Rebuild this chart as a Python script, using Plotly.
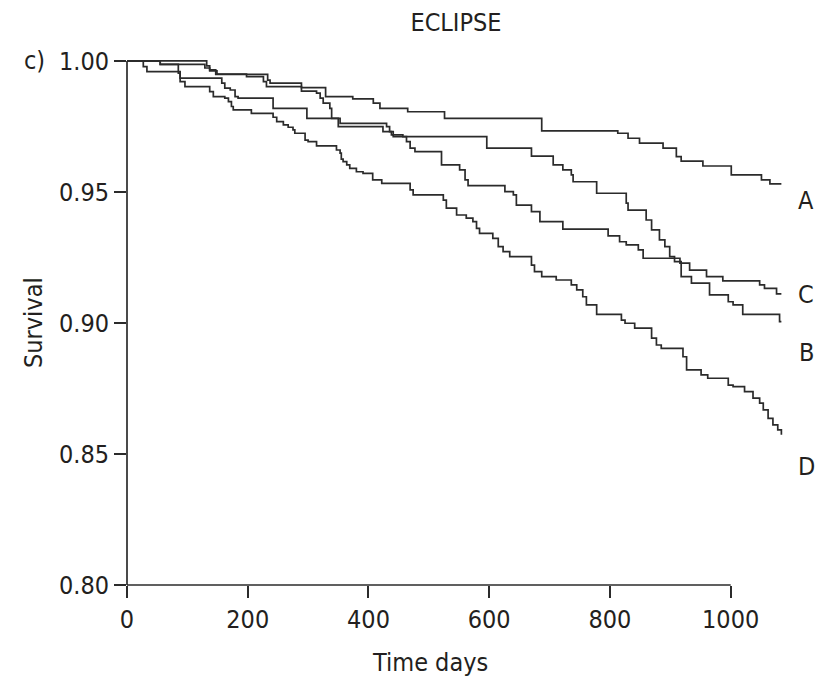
import plotly.graph_objects as go

# Kaplan-Meier step data: event times (days) and survival after each step
time_a = [0, 132, 137, 147, 233, 237, 289, 329, 374, 408, 419, 465, 526, 687,
          813, 830, 849, 888, 910, 918, 954, 1001, 1051, 1065, 1084]
surv_a = [1.0, 0.9981, 0.9966, 0.9949, 0.9927, 0.9915, 0.9898, 0.9864, 0.9855,
          0.9839, 0.9819, 0.9806, 0.9781, 0.9733, 0.9724, 0.9705, 0.9686, 0.9667,
          0.9635, 0.9618, 0.9599, 0.9565, 0.9546, 0.9531, 0.9531]

time_b = [0, 55, 129, 137, 149, 198, 226, 231, 289, 314, 320, 325, 336, 339, 350,
          424, 438, 441, 596, 670, 706, 722, 736, 739, 778, 827, 830, 860, 869,
          882, 891, 899, 907, 918, 935, 965, 996, 1004, 1020, 1081, 1084]
surv_b = [1.0, 0.9987, 0.9973, 0.9962, 0.9950, 0.9940, 0.9921, 0.9902, 0.9885,
          0.9877, 0.9858, 0.9839, 0.9819, 0.9781, 0.9749, 0.9730, 0.9718, 0.9711,
          0.9667, 0.9637, 0.9603, 0.9584, 0.9565, 0.9539, 0.9495, 0.9457, 0.9431,
          0.9393, 0.9355, 0.9317, 0.9291, 0.9253, 0.9234, 0.9177, 0.9152, 0.9107,
          0.9081, 0.9069, 0.9033, 0.9005, 0.9005]

time_c = [0, 55, 85, 88, 157, 162, 171, 179, 184, 242, 298, 353, 430, 435, 441,
          457, 463, 469, 477, 521, 551, 560, 565, 626, 640, 645, 670, 684, 722,
          797, 816, 827, 847, 855, 916, 932, 960, 987, 1048, 1056, 1076, 1084]
surv_c = [1.0, 0.9987, 0.9953, 0.9934, 0.9915, 0.9896, 0.9889, 0.9864, 0.9858,
          0.9819, 0.9781, 0.9762, 0.9749, 0.9730, 0.9718, 0.9711, 0.9692, 0.9667,
          0.9654, 0.9603, 0.9584, 0.9546, 0.9524, 0.9501, 0.9489, 0.9450, 0.9425,
          0.9387, 0.9358, 0.9332, 0.9310, 0.9298, 0.9279, 0.9247, 0.9228, 0.9202,
          0.9177, 0.9161, 0.9145, 0.9132, 0.9111, 0.9111]

time_d = [0, 27, 33, 88, 96, 137, 143, 162, 168, 173, 176, 206, 242, 248, 259,
          267, 275, 278, 295, 300, 314, 347, 353, 355, 358, 364, 369, 380, 391,
          407, 422, 469, 474, 524, 529, 546, 562, 573, 579, 584, 606, 615, 623,
          634, 670, 675, 687, 711, 736, 745, 755, 761, 778, 819, 825, 841, 869,
          877, 885, 921, 927, 951, 962, 996, 1004, 1023, 1037, 1048, 1054, 1062,
          1070, 1078, 1084]
surv_d = [1.0, 0.9978, 0.9959, 0.9921, 0.9902, 0.9883, 0.9864, 0.9858, 0.9845,
          0.9826, 0.9813, 0.9800, 0.9785, 0.9768, 0.9756, 0.9747, 0.9737, 0.9724,
          0.9698, 0.9692, 0.9676, 0.9660, 0.9648, 0.9625, 0.9616, 0.9603, 0.9590,
          0.9577, 0.9571, 0.9546, 0.9533, 0.9508, 0.9489, 0.9469, 0.9438, 0.9412,
          0.9400, 0.9387, 0.9361, 0.9342, 0.9323, 0.9291, 0.9272, 0.9253, 0.9221,
          0.9196, 0.9177, 0.9164, 0.9145, 0.9126, 0.9100, 0.9069, 0.9033, 0.9011,
          0.8999, 0.8980, 0.8942, 0.8916, 0.8903, 0.8871, 0.8821, 0.8802, 0.8789,
          0.8763, 0.8757, 0.8738, 0.8713, 0.8694, 0.8668, 0.8636, 0.8611, 0.8592,
          0.8573, 0.8573]

groups = ["A", "B", "C", "D"]
label_y = [0.9466, 0.8889, 0.9107, 0.8454]

x_ticks = [0, 200, 400, 600, 800, 1000]
y_ticks = [0.80, 0.85, 0.90, 0.95, 1.00]
y_tick_text = ["0.80", "0.85", "0.90", "0.95", "1.00"]

X_MAX = 1090
Y_MIN, Y_MAX = 0.80, 1.0015

FONT = "DejaVu Sans Condensed, Liberation Sans Narrow, sans-serif"
FS = 25
INK = "#231f20"
LINE = "#2b2b2b"
W, H = 831, 678
ML, MR, MT, MB = 127, 46, 57, 93
PLOT_W = W - ML - MR
PLOT_H = H - MT - MB


def px_x(p):
    """Horizontal page pixel -> paper fraction of the plot area."""
    return (p - ML) / PLOT_W


def px_y(p):
    """Vertical page pixel -> paper fraction of the plot area."""
    return (H - MB - p) / PLOT_H


fig = go.Figure()
for t, s, name in zip([time_a, time_b, time_c, time_d],
                      [surv_a, surv_b, surv_c, surv_d], groups):
    fig.add_trace(go.Scatter(
        x=t, y=s, mode="lines", line_shape="hv", name=name,
        line=dict(color=LINE, width=1.7), showlegend=False, hoverinfo="skip"))

txt = dict(family=FONT, size=FS, color=INK)

# curve labels to the right of the plot
for name, yv in zip(groups, label_y):
    fig.add_annotation(x=px_x(806), xref="paper", y=yv, yref="y",
                       text=name, showarrow=False, xanchor="center",
                       yanchor="middle", font=txt)

# axis lines: x axis stops at 1000 days, y axis stops at 1.00
x_frac = 1000 / X_MAX
y_frac = (1.0 - Y_MIN) / (Y_MAX - Y_MIN)
fig.add_shape(type="line", xref="paper", yref="paper", x0=0, x1=x_frac, y0=0, y1=0,
              line=dict(color=LINE, width=1.7))
fig.add_shape(type="line", xref="paper", yref="paper", x0=0, x1=0, y0=0, y1=y_frac,
              line=dict(color=LINE, width=1.7))

# panel tag and axis titles
fig.add_annotation(x=px_x(22), xref="paper", y=1.0, yref="y", text="c)",
                   showarrow=False, xanchor="left", yanchor="middle", font=txt)
fig.add_annotation(x=px_x(430), xref="paper", y=px_y(662), yref="paper",
                   text="Time days", showarrow=False, xanchor="center",
                   yanchor="middle", font=txt)
fig.add_annotation(x=px_x(33), xref="paper", y=px_y(323), yref="paper",
                   text="Survival", textangle=-90, showarrow=False,
                   xanchor="center", yanchor="middle", font=txt)

fig.update_layout(
    width=W, height=H,
    margin=dict(l=ML, r=MR, t=MT, b=MB, autoexpand=False),
    paper_bgcolor="white", plot_bgcolor="white",
    font=txt,
    title=dict(text="ECLIPSE", x=456 / W, xanchor="center", y=1 - 22 / H,
               yanchor="middle", font=txt),
    xaxis=dict(range=[0, X_MAX], tickvals=x_ticks, ticks="outside", ticklen=12,
               tickwidth=1.7, tickcolor=LINE, showline=False, showgrid=False,
               zeroline=False, tickfont=txt, automargin=False),
    yaxis=dict(range=[Y_MIN, Y_MAX], tickvals=y_ticks, ticktext=y_tick_text,
               ticks="outside", ticklen=12, tickwidth=1.7, tickcolor=LINE,
               showline=False, showgrid=False, zeroline=False,
               tickfont=txt, automargin=False),
)

fig.write_html("out.html")
